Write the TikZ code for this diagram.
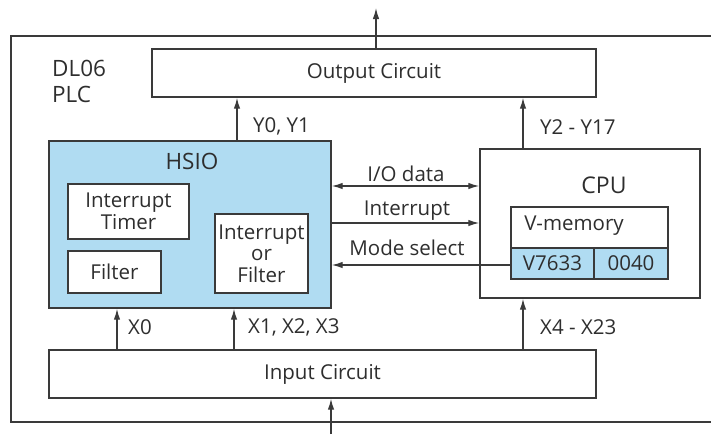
\documentclass[tikz,border=0pt]{standalone}
\usepackage{fontspec}
\setmainfont{Open Sans}
\usetikzlibrary{arrows.meta}
\definecolor{lblue}{HTML}{B0DCF2}
\definecolor{lgray}{HTML}{3A3A3A}
\tikzset{
  box/.style={draw=lgray, line width=1.4pt, fill=white, inner sep=0pt, font=\fontsize{20.5}{22}\selectfont, align=center, text=lgray!80!black},
  bluebox/.style={box, fill=lblue},
  arr/.style={draw=lgray, line width=1.3pt, -{Latex[length=11pt,width=6.5pt]}},
  darr/.style={draw=lgray, line width=1.3pt, {Latex[length=11pt,width=6.5pt]}-{Latex[length=11pt,width=6.5pt]}},
  lbl/.style={inner sep=0pt, font=\fontsize{20.5}{22}\selectfont, text=lgray!80!black},
  title/.style={lbl, font=\fontsize{22.5}{26}\selectfont},
  frame/.style={draw=lgray, line width=1.4pt}
}
\begin{document}
\begin{tikzpicture}[x=1pt,y=-1pt]
\useasboundingbox (0,0) rectangle (711,434);
% outer frame
\coordinate (f1) at (711,36);
\coordinate (f2) at (11,36);
\coordinate (f3) at (11,422);
\coordinate (f4) at (711,422);
\draw[frame] (f1) -- (f2) -- (f3) -- (f4);
\node[title, anchor=west, align=left] (plc) at (52,81) {DL06\\PLC};
% boxes
\node[box, minimum width=444pt, minimum height=48pt] (out) at (374,73) {Output Circuit};
\node[bluebox, minimum width=282pt, minimum height=167pt] (hsio) at (190,224.5) {};
\node[title] (hsiot) at (192,161) {HSIO};
\node[box, minimum width=121pt, minimum height=55pt, font=\fontsize{20.5}{21.5}\selectfont] (itimer) at (128.5,211.5) {Interrupt\\Timer};
\node[box, minimum width=93pt, minimum height=42pt] (filter) at (114.5,272) {Filter};
\node[box, minimum width=93pt, minimum height=79pt, font=\fontsize{20.5}{21.5}\selectfont] (iof) at (261.5,253.5) {Interrupt\\or\\Filter};
\node[box, minimum width=220pt, minimum height=149pt] (cpu) at (590,223.5) {};
\node[title, font=\fontsize{23}{26}\selectfont] (cput) at (604,185) {CPU};
\node[box, minimum width=157pt, minimum height=41pt] (vmem) at (589.5,227.5) {};
\node[lbl] (vmemt) at (574,226) {V-memory};
\node[bluebox, minimum width=83pt, minimum height=31pt] (v7633) at (552.5,263.5) {V7633};
\node[bluebox, minimum width=74pt, minimum height=31pt] (v0040) at (631,263.5) {0040};
\node[box, minimum width=547pt, minimum height=48pt] (in) at (322.5,374) {Input Circuit};
% arrow x positions
\coordinate (xtop) at (376,8);
\coordinate (xya) at (237,0);
\coordinate (xyb) at (523,0);
\coordinate (xx0) at (117,0);
\coordinate (xx1) at (234,0);
\coordinate (xbot) at (331,434);
\coordinate (yio) at (0,186);
\coordinate (yint) at (0,223);
\coordinate (ymode) at (0,265);
% vertical arrows
\draw[arr] (out.north -| xtop) -- (xtop);
\draw[arr] (hsio.north -| xya) -- (out.south -| xya);
\draw[arr] (cpu.north -| xyb) -- (out.south -| xyb);
\draw[arr] (in.north -| xx0) -- (hsio.south -| xx0);
\draw[arr] (in.north -| xx1) -- (hsio.south -| xx1);
\draw[arr] (in.north -| xyb) -- (cpu.south -| xyb);
\draw[arr] (xbot) -- (in.south -| xbot);
% horizontal arrows
\draw[darr] (hsio.east |- yio) -- (cpu.west |- yio);
\draw[arr] (hsio.east |- yint) -- (cpu.west |- yint);
\draw[arr] (v7633.west |- ymode) -- (hsio.east |- ymode);
% labels
\node[lbl, anchor=west] (ly0) at (253,126) {Y0, Y1};
\node[lbl, anchor=west] (ly2) at (540,127) {Y2 - Y17};
\node[lbl, anchor=west] (lx0) at (128,327) {X0};
\node[lbl, anchor=west] (lx1) at (248,327) {X1, X2, X3};
\node[lbl, anchor=west] (lx4) at (540,327) {X4 - X23};
\node[lbl] (lio) at (406,174) {I/O data};
\node[lbl] (lint) at (407,211) {Interrupt};
\node[lbl] (lmode) at (407,248) {Mode select};
\end{tikzpicture}
\end{document}
